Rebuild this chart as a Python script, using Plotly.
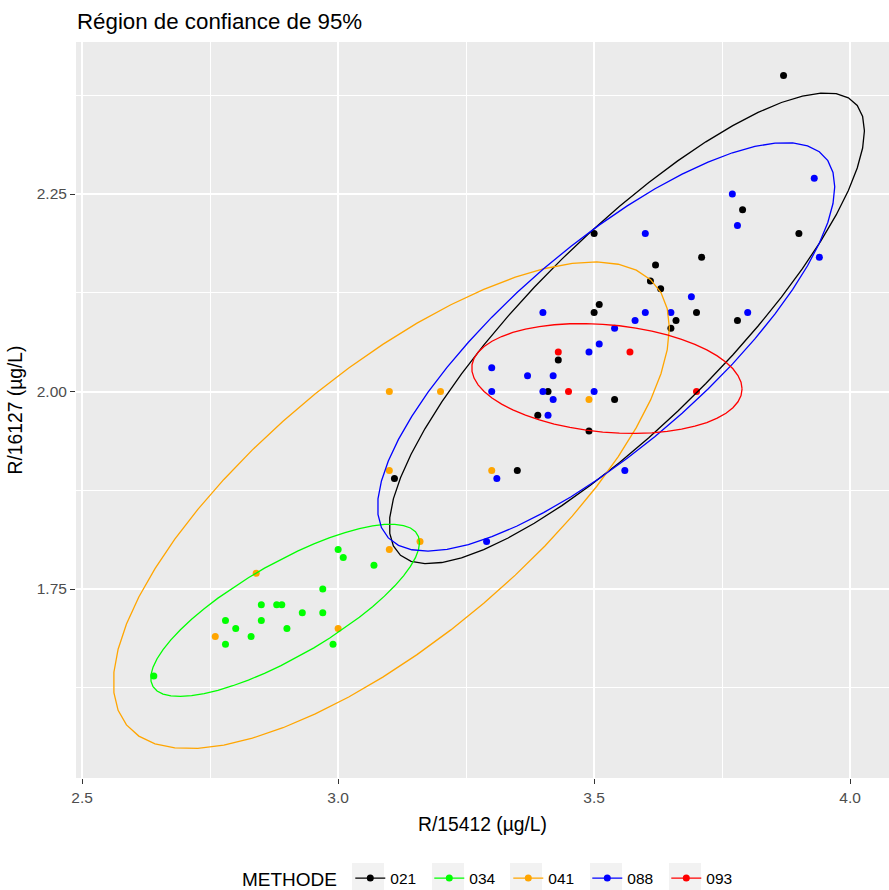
import numpy as np
import plotly.graph_objects as go

# Measurements per method (x = R/15412, y = R/16127, µg/L)
methodes = ["021", "034", "041", "088", "093"]
couleurs = ["#000000", "#00FF00", "#FFA500", "#0000FF", "#FF0000"]

x_021 = [3.87, 3.50, 3.62, 3.71, 3.79, 3.90, 3.51, 3.50, 3.61, 3.63, 3.66,
         3.65, 3.70, 3.78, 3.43, 3.41, 3.39, 3.54, 3.49, 3.35, 3.11]
y_021 = [2.40, 2.20, 2.16, 2.17, 2.23, 2.20, 2.11, 2.10, 2.14, 2.13, 2.09,
         2.08, 2.10, 2.09, 2.04, 2.00, 1.97, 1.99, 1.95, 1.90, 1.89]

x_034 = [3.00, 3.01, 3.07, 2.97, 2.85, 2.88, 2.89, 2.93, 2.97, 2.78, 2.85,
         2.80, 2.90, 2.83, 2.78, 2.99, 2.64]
y_034 = [1.80, 1.79, 1.78, 1.75, 1.73, 1.73, 1.73, 1.72, 1.72, 1.71, 1.71,
         1.70, 1.70, 1.69, 1.68, 1.68, 1.64]

x_041 = [3.10, 3.20, 3.49, 3.10, 3.30, 3.16, 3.10, 2.84, 3.00, 2.76]
y_041 = [2.00, 2.00, 1.99, 1.90, 1.90, 1.81, 1.80, 1.77, 1.70, 1.69]

x_088 = [3.40, 3.54, 3.51, 3.49, 3.30, 3.37, 3.42, 3.30, 3.40, 3.50, 3.42,
         3.41, 3.31, 3.93, 3.77, 3.78, 3.60, 3.94, 3.69, 3.60, 3.65, 3.80,
         3.58, 3.56, 3.29]
y_088 = [2.10, 2.08, 2.06, 2.05, 2.03, 2.02, 2.02, 2.00, 2.00, 2.00, 1.99,
         1.97, 1.89, 2.27, 2.25, 2.21, 2.20, 2.17, 2.12, 2.10, 2.10, 2.10,
         2.09, 1.90, 1.81]

x_093 = [3.43, 3.45, 3.57, 3.70]
y_093 = [2.05, 2.00, 2.05, 2.00]

xs = [x_021, x_034, x_041, x_088, x_093]
ys = [y_021, y_034, y_041, y_088, y_093]

# 95% confidence regions, one per method (same order as `methodes`):
# centre, half-extent along x and y, and the x-y covariance term
ell_cx = [3.564, 2.8965, 3.104, 3.5235, 3.525]
ell_cy = [2.080, 1.723, 1.856, 2.0565, 2.0165]
ell_hx = [0.464, 0.2625, 0.543, 0.4465, 0.264]
ell_hy = [0.298, 0.109, 0.308, 0.2585, 0.0695]
ell_cxy = [0.116, 0.0225, 0.122, 0.0905, -0.0035]

x_ticks = [2.5, 3.0, 3.5, 4.0]
x_ticklabels = ["2.5", "3.0", "3.5", "4.0"]
y_ticks = [1.75, 2.00, 2.25]
y_ticklabels = ["1.75", "2.00", "2.25"]

FONT = "Liberation Sans, Arial, Helvetica, sans-serif"


def ellipse_path(cx, cy, hx, hy, cxy, segments=51):
    """Outline of the region {p : (p-c)' S^-1 (p-c) <= 1} as a polygon."""
    shape = np.array([[hx ** 2, cxy], [cxy, hy ** 2]])
    upper = np.linalg.cholesky(shape).T
    ang = np.arange(segments + 1) * 2 * np.pi / segments
    circle = np.column_stack([np.cos(ang), np.sin(ang)])
    e = np.array([cx, cy]) + circle @ upper
    return e[:, 0], e[:, 1]


fig = go.Figure()

# points
for m, c, xv, yv in zip(methodes, couleurs, xs, ys):
    fig.add_trace(go.Scatter(x=xv, y=yv, mode="markers", name=m,
                             marker=dict(color=c, size=7), showlegend=False))

# confidence ellipses
for i, (m, c) in enumerate(zip(methodes, couleurs)):
    ex, ey = ellipse_path(ell_cx[i], ell_cy[i], ell_hx[i], ell_hy[i], ell_cxy[i])
    fig.add_trace(go.Scatter(x=ex, y=ey, mode="lines", name=m,
                             line=dict(color=c, width=1.3), showlegend=False))

# legend entries
for m, c in zip(methodes, couleurs):
    fig.add_trace(go.Scatter(x=[None], y=[None], mode="lines+markers", name=m,
                             line=dict(color=c, width=1.3),
                             marker=dict(color=c, size=7)))

# plot-area geometry in pixels (used to place legend pieces)
W, H = 889, 890
L_M, R_M, T_M, B_M = 76, 0, 42, 112
PW, PH = W - L_M - R_M, H - T_M - B_M


def px_to_paper(px, py):
    return (px - L_M) / PW, (H - B_M - py) / PH


# light key backgrounds behind each legend symbol
key_left = [352, 432, 510, 590, 669]
shapes = []
for kx in key_left:
    x0, y0 = px_to_paper(kx, 863)
    x1, y1 = px_to_paper(kx + 32, 893)
    shapes.append(dict(type="rect", xref="paper", yref="paper",
                       x0=x0, x1=x1, y0=y0, y1=y1, layer="below",
                       fillcolor="#F2F2F2", line=dict(width=0)))

axis_common = dict(
    showline=False, zeroline=False, ticks="outside", ticklen=5,
    tickwidth=1.2, tickcolor="#333333", gridcolor="#FFFFFF", gridwidth=2,
    tickfont=dict(family=FONT, size=15.5, color="#4D4D4D"),
)

fig.update_layout(
    width=W, height=H,
    margin=dict(l=L_M, r=R_M, t=T_M, b=B_M, autoexpand=False),
    paper_bgcolor="#FFFFFF", plot_bgcolor="#EBEBEB",
    font=dict(family=FONT, color="#000000"),
    title=dict(text="Région de confiance de 95%", x=77 / W, xref="container",
               xanchor="left", y=1 - 21 / H, yanchor="middle",
               font=dict(family=FONT, size=22.3, color="#000000")),
    xaxis=dict(range=[2.488, 4.076], tickvals=x_ticks, ticktext=x_ticklabels,
               minor=dict(dtick=0.25, tick0=2.25, showgrid=True,
                          gridcolor="#FFFFFF", gridwidth=1, ticklen=0),
               title=dict(text="R/15412 (µg/L)", standoff=12,
                          font=dict(family=FONT, size=19.3)),
               **axis_common),
    yaxis=dict(range=[1.5108, 2.4424], tickvals=y_ticks, ticktext=y_ticklabels,
               minor=dict(dtick=0.125, tick0=1.625, showgrid=True,
                          gridcolor="#FFFFFF", gridwidth=1, ticklen=0),
               title=dict(text="R/16127 (µg/L)", standoff=8,
                          font=dict(family=FONT, size=19.3)),
               **axis_common),
    legend=dict(orientation="h", x=(240 - L_M) / PW, xanchor="left",
                yref="container", y=(H - 879) / H, yanchor="middle",
                bgcolor="rgba(0,0,0,0)",
                entrywidth=34, entrywidthmode="pixels",
                title=dict(text="METHODE ", side="left",
                           font=dict(family=FONT, size=19)),
                font=dict(family=FONT, size=15.5, color="#000000")),
    shapes=shapes,
)

fig.write_html("out.html")
